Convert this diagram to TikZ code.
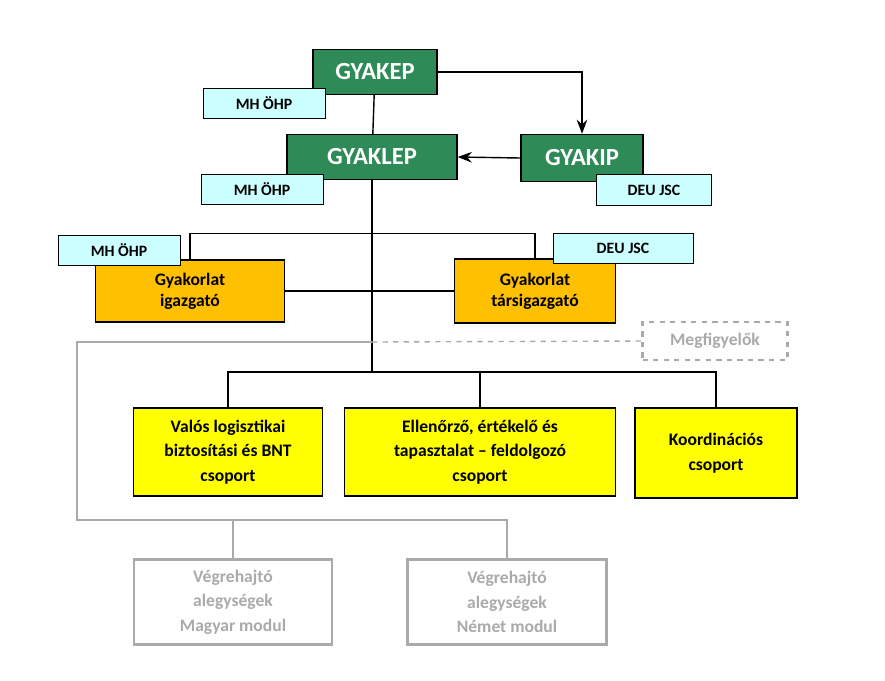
\documentclass[tikz,border=0pt]{standalone}
\usepackage{fontspec}
\setmainfont{Carlito}
\usetikzlibrary{positioning, arrows.meta, calc}
\definecolor{Lead}{RGB}{46, 139, 87}
\definecolor{Tag}{RGB}{204, 255, 255}
\definecolor{Chief}{RGB}{255, 192, 0}
\definecolor{Group}{RGB}{255, 255, 0}
\definecolor{Faint}{RGB}{170, 170, 170}
\tikzset{
  leadbox/.style={draw=black, thick, fill=Lead, text=white, font=\bfseries\fontsize{14}{16}\selectfont, inner sep=0pt},
  tagbox/.style={draw=black, fill=Tag, font=\bfseries\fontsize{9}{11}\selectfont, inner sep=0pt},
  chiefbox/.style={draw=black, thick, fill=Chief, font=\bfseries\fontsize{10}{12}\selectfont, align=center, inner sep=0pt},
  groupbox/.style={draw=black, thick, fill=Group, font=\bfseries\fontsize{10}{14}\selectfont, align=center, inner sep=0pt},
  unitbox/.style={draw=Faint, very thick, fill=white, text=Faint, font=\bfseries\fontsize{10}{14}\selectfont, align=center, inner sep=0pt},
  link/.style={thick},
  sz/.style n args={2}{minimum width=#1*0.02cm, minimum height=#2*0.02cm}
}
\begin{document}
\begin{tikzpicture}[x=0.02cm, y=-0.02cm]
        \useasboundingbox[fill=white] (0, 0) rectangle (885, 680);
        % top level
        \node[leadbox, sz={124}{45}] (kep) at (375, 72) {GYAKEP};
        \node[leadbox, sz={170}{45}] (klep) at (372, 157) {GYAKLEP};
        \node[leadbox, sz={122}{47}] (kip) at (582, 158) {GYAKIP};
        
        % directors
        \node[chiefbox, sz={189}{62}] (dir) at (190, 291) {Gyakorlat\\igazgató};
        \node[chiefbox, sz={161}{64}] (codir) at (535, 291) {Gyakorlat\\társigazgató};
        
        % groups
        \node[groupbox, sz={189}{88}] (logi) at (228, 452) {Valós logisztikai\\biztosítási és BNT\\csoport};
        \node[groupbox, sz={271}{88}] (eval) at (480, 452) {Ellenőrző, értékelő és\\tapasztalat -- feldolgozó\\csoport};
        \node[groupbox, sz={162}{90}] (coord) at (716, 453) {Koordinációs\\csoport};
        
        % units
        \node[unitbox, sz={198}{85}] (huunit) at (233, 602) {Végrehajtó\\alegységek\\Magyar modul};
        \node[unitbox, sz={199}{85}] (deunit) at (507, 602) {Végrehajtó\\alegységek\\Német modul};
        \node[unitbox, dashed, sz={145}{38}] (obs) at (715, 341) {Megfigyelők};
        
        % connectors
        \coordinate (trunk) at (klep.south |- 0, 372);
        \coordinate (side) at (klep.south |- 0, 342);
        \draw[link, -{Stealth[length=8pt]}] (kep.east) -| (kip.north);
        \draw[link, -{Stealth[length=8pt]}] (kip.west) -- (klep.east);
        \draw[link] (kep) -- (klep);
        \draw[link] (klep.south) -- (trunk);
        \draw[link] (dir.north) |- ($(klep.south)+(0,53)$) -| (codir.north);
        \draw[link] (dir.east) -- (codir.west);
        \draw[link] (logi.north) |- (trunk) -| (coord.north);
        \draw[link] (trunk) -| (eval.north);
        \draw[Faint, thick, dashed] (side) -- (obs.west);
        \draw[Faint, thick] (side) -- (77, 342) -- (77, 520) -| (huunit.north);
        \draw[Faint, thick] (huunit.north |- 0, 520) -| (deunit.north);
        
        % tags
        \node[tagbox, sz={122}{30}] (tag1) at (264, 103) {MH ÖHP};
        \node[tagbox, sz={122}{30}] (tag2) at (262, 189) {MH ÖHP};
        \node[tagbox, sz={115}{31}] (tag3) at (654, 190) {DEU JSC};
        \node[tagbox, sz={122}{30}] (tag4) at (119, 250) {MH ÖHP};
        \node[tagbox, sz={140}{30}] (tag5) at (623, 248) {DEU JSC};
    \end{tikzpicture}
\end{document}
